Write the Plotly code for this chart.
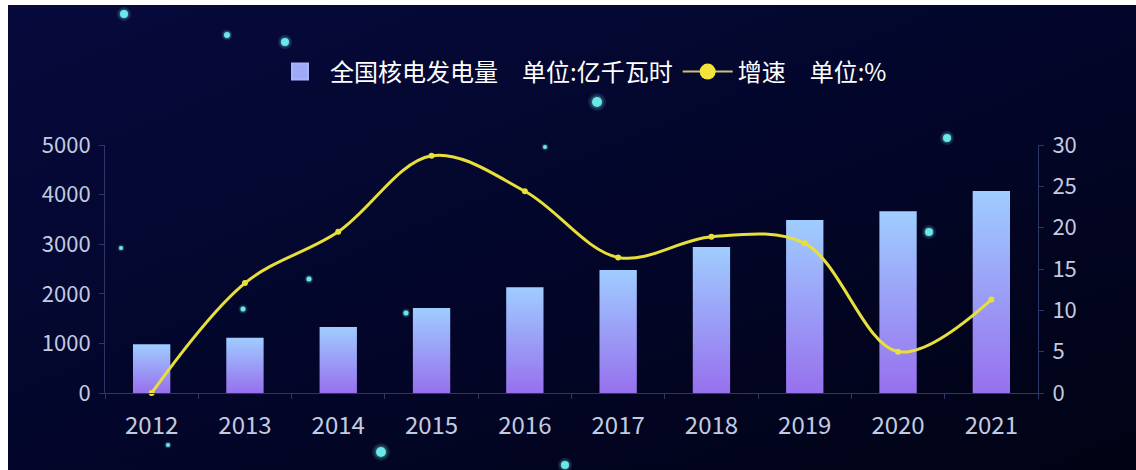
import plotly.graph_objects as go
import base64

years = ["2012", "2013", "2014", "2015", "2016", "2017", "2018", "2019", "2020", "2021"]
generation = [982, 1115, 1332, 1714, 2132, 2481, 2944, 3487, 3662, 4075]
growth = [0, 13.3, 19.5, 28.7, 24.4, 16.4, 18.9, 18.1, 5.0, 11.3]
bar_name = "全国核电发电量\u2002\u2002单位:亿千瓦时"
line_name = "增速\u2002\u2002单位:%"

W, H = 1136, 470
ML, MR, MT, MB = 105, 98, 145, 77
PW, PH = W - ML - MR, H - MT - MB


def px_x(p):
    return (p - ML) / PW


def px_y(p):
    return (H - MB - p) / PH


fig = go.Figure()

half = 0.2
for i, (yr, v) in enumerate(zip(years, generation)):
    fig.add_trace(go.Scatter(
        x=[i - half, i + half, i + half, i - half, i - half],
        y=[0, 0, v, v, 0],
        mode="lines", fill="toself",
        line=dict(width=0, color="#9ab0fb"),
        fillgradient=dict(type="vertical",
                          colorscale=[[0, "#9770ee"], [1, "#9fcdff"]]),
        name=bar_name, legendgroup="bar", showlegend=False,
        hoverinfo="skip",
    ))

# legend entry for the bars
fig.add_trace(go.Scatter(x=[None], y=[None], name=bar_name, legendgroup="bar",
                         mode="markers",
                         marker=dict(symbol="square", size=16, color="#a0a9f8",
                                     line=dict(width=2, color="#a6b4fb"))))

fig.add_trace(go.Scatter(
    x=list(range(len(years))), y=growth, yaxis="y2",
    mode="lines+markers", name=line_name, legendgroup="line", showlegend=False,
    line=dict(color="#e8df3a", width=3, shape="spline", smoothing=1.0),
    marker=dict(color="#e8df3a", size=6),
    cliponaxis=False,
))
# legend entry for the line (bigger symbol)
fig.add_trace(go.Scatter(
    x=[None], y=[None], yaxis="y2", mode="lines+markers", name=line_name,
    legendgroup="line",
    line=dict(color="#c9c27a", width=2),
    marker=dict(color="#f2e43a", size=16),
))

axis_color = "#2c3766"
ytick_font = dict(family="Noto Sans CJK SC", size=22, color="#c3cbe0")
xtick_font = dict(family="Noto Sans CJK SC", size=24, color="#c3cbe0")

fig.update_layout(
    width=W, height=H,
    margin=dict(l=ML, r=MR, t=MT, b=MB, pad=0),
    paper_bgcolor="#ffffff",
    plot_bgcolor="rgba(0,0,0,0)",
    font=dict(family="Noto Sans CJK SC", color="#ffffff"),
    xaxis=dict(
        range=[-0.5, len(years) - 0.5],
        tickmode="array", tickvals=list(range(len(years))), ticktext=years,
        ticks="", showgrid=False, zeroline=False,
        showline=True, linecolor=axis_color, linewidth=1,
        tickfont=xtick_font, ticklabelstandoff=11,
        minor=dict(tick0=0.5, dtick=1, ticks="outside", ticklen=5,
                   tickcolor=axis_color, showgrid=False),
        fixedrange=True,
    ),
    yaxis=dict(
        range=[0, 5000], dtick=1000, showgrid=False, zeroline=False,
        showline=True, linecolor=axis_color, linewidth=1,
        ticks="outside", ticklen=5, tickcolor=axis_color,
        tickfont=ytick_font, ticklabelstandoff=4,
    ),
    yaxis2=dict(
        range=[0, 30], dtick=5, overlaying="y", side="right",
        showgrid=False, zeroline=False,
        showline=True, linecolor=axis_color, linewidth=1,
        ticks="outside", ticklen=5, tickcolor=axis_color,
        tickfont=ytick_font, ticklabelstandoff=4,
    ),
    legend=dict(
        orientation="h", x=px_x(581), y=px_y(72), xanchor="center", yanchor="middle",
        font=dict(family="Noto Sans CJK SC", size=24, color="#ffffff"),
        bgcolor="rgba(0,0,0,0)", itemwidth=50,
    ),
    showlegend=True,
)

# background gradient image (dark navy)
svg = ('<svg xmlns="http://www.w3.org/2000/svg" width="100" height="100" preserveAspectRatio="none">'
       '<defs><linearGradient id="g" x1="0" y1="0" x2="1" y2="1">'
       '<stop offset="0" stop-color="#070a3c"/><stop offset="0.5" stop-color="#03062a"/>'
       '<stop offset="1" stop-color="#010314"/></linearGradient></defs>'
       '<rect width="100" height="100" fill="url(#g)"/></svg>')
src = "data:image/svg+xml;base64," + base64.b64encode(svg.encode()).decode()
fig.add_layout_image(dict(
    source=src, xref="paper", yref="paper",
    x=px_x(8), y=px_y(5), sizex=px_x(W) - px_x(8), sizey=px_y(5) - px_y(H),
    xanchor="left", yanchor="top", sizing="stretch", layer="below",
))

# decorative stars
stars = [(124, 14, 4), (227, 35, 3), (285, 42, 4), (597, 102, 5), (381, 452, 5),
         (565, 465, 4), (947, 138, 4), (929, 232, 4), (545, 147, 2), (121, 248, 2),
         (243, 309, 2.5), (309, 279, 2.5), (406, 313, 2.5), (168, 445, 2)]
for sx, sy, r in stars:
    for rr, op in ((r * 1.8, 0.12), (r * 1.35, 0.2), (r, 0.95)):
        fig.add_shape(type="circle", xref="paper", yref="paper",
                      xsizemode="pixel", ysizemode="pixel",
                      xanchor=px_x(sx), yanchor=px_y(sy),
                      x0=-rr, x1=rr, y0=-rr, y1=rr,
                      fillcolor="#6ff0f0", opacity=op, line=dict(width=0),
                      layer="below")

fig.write_html("out.html")
